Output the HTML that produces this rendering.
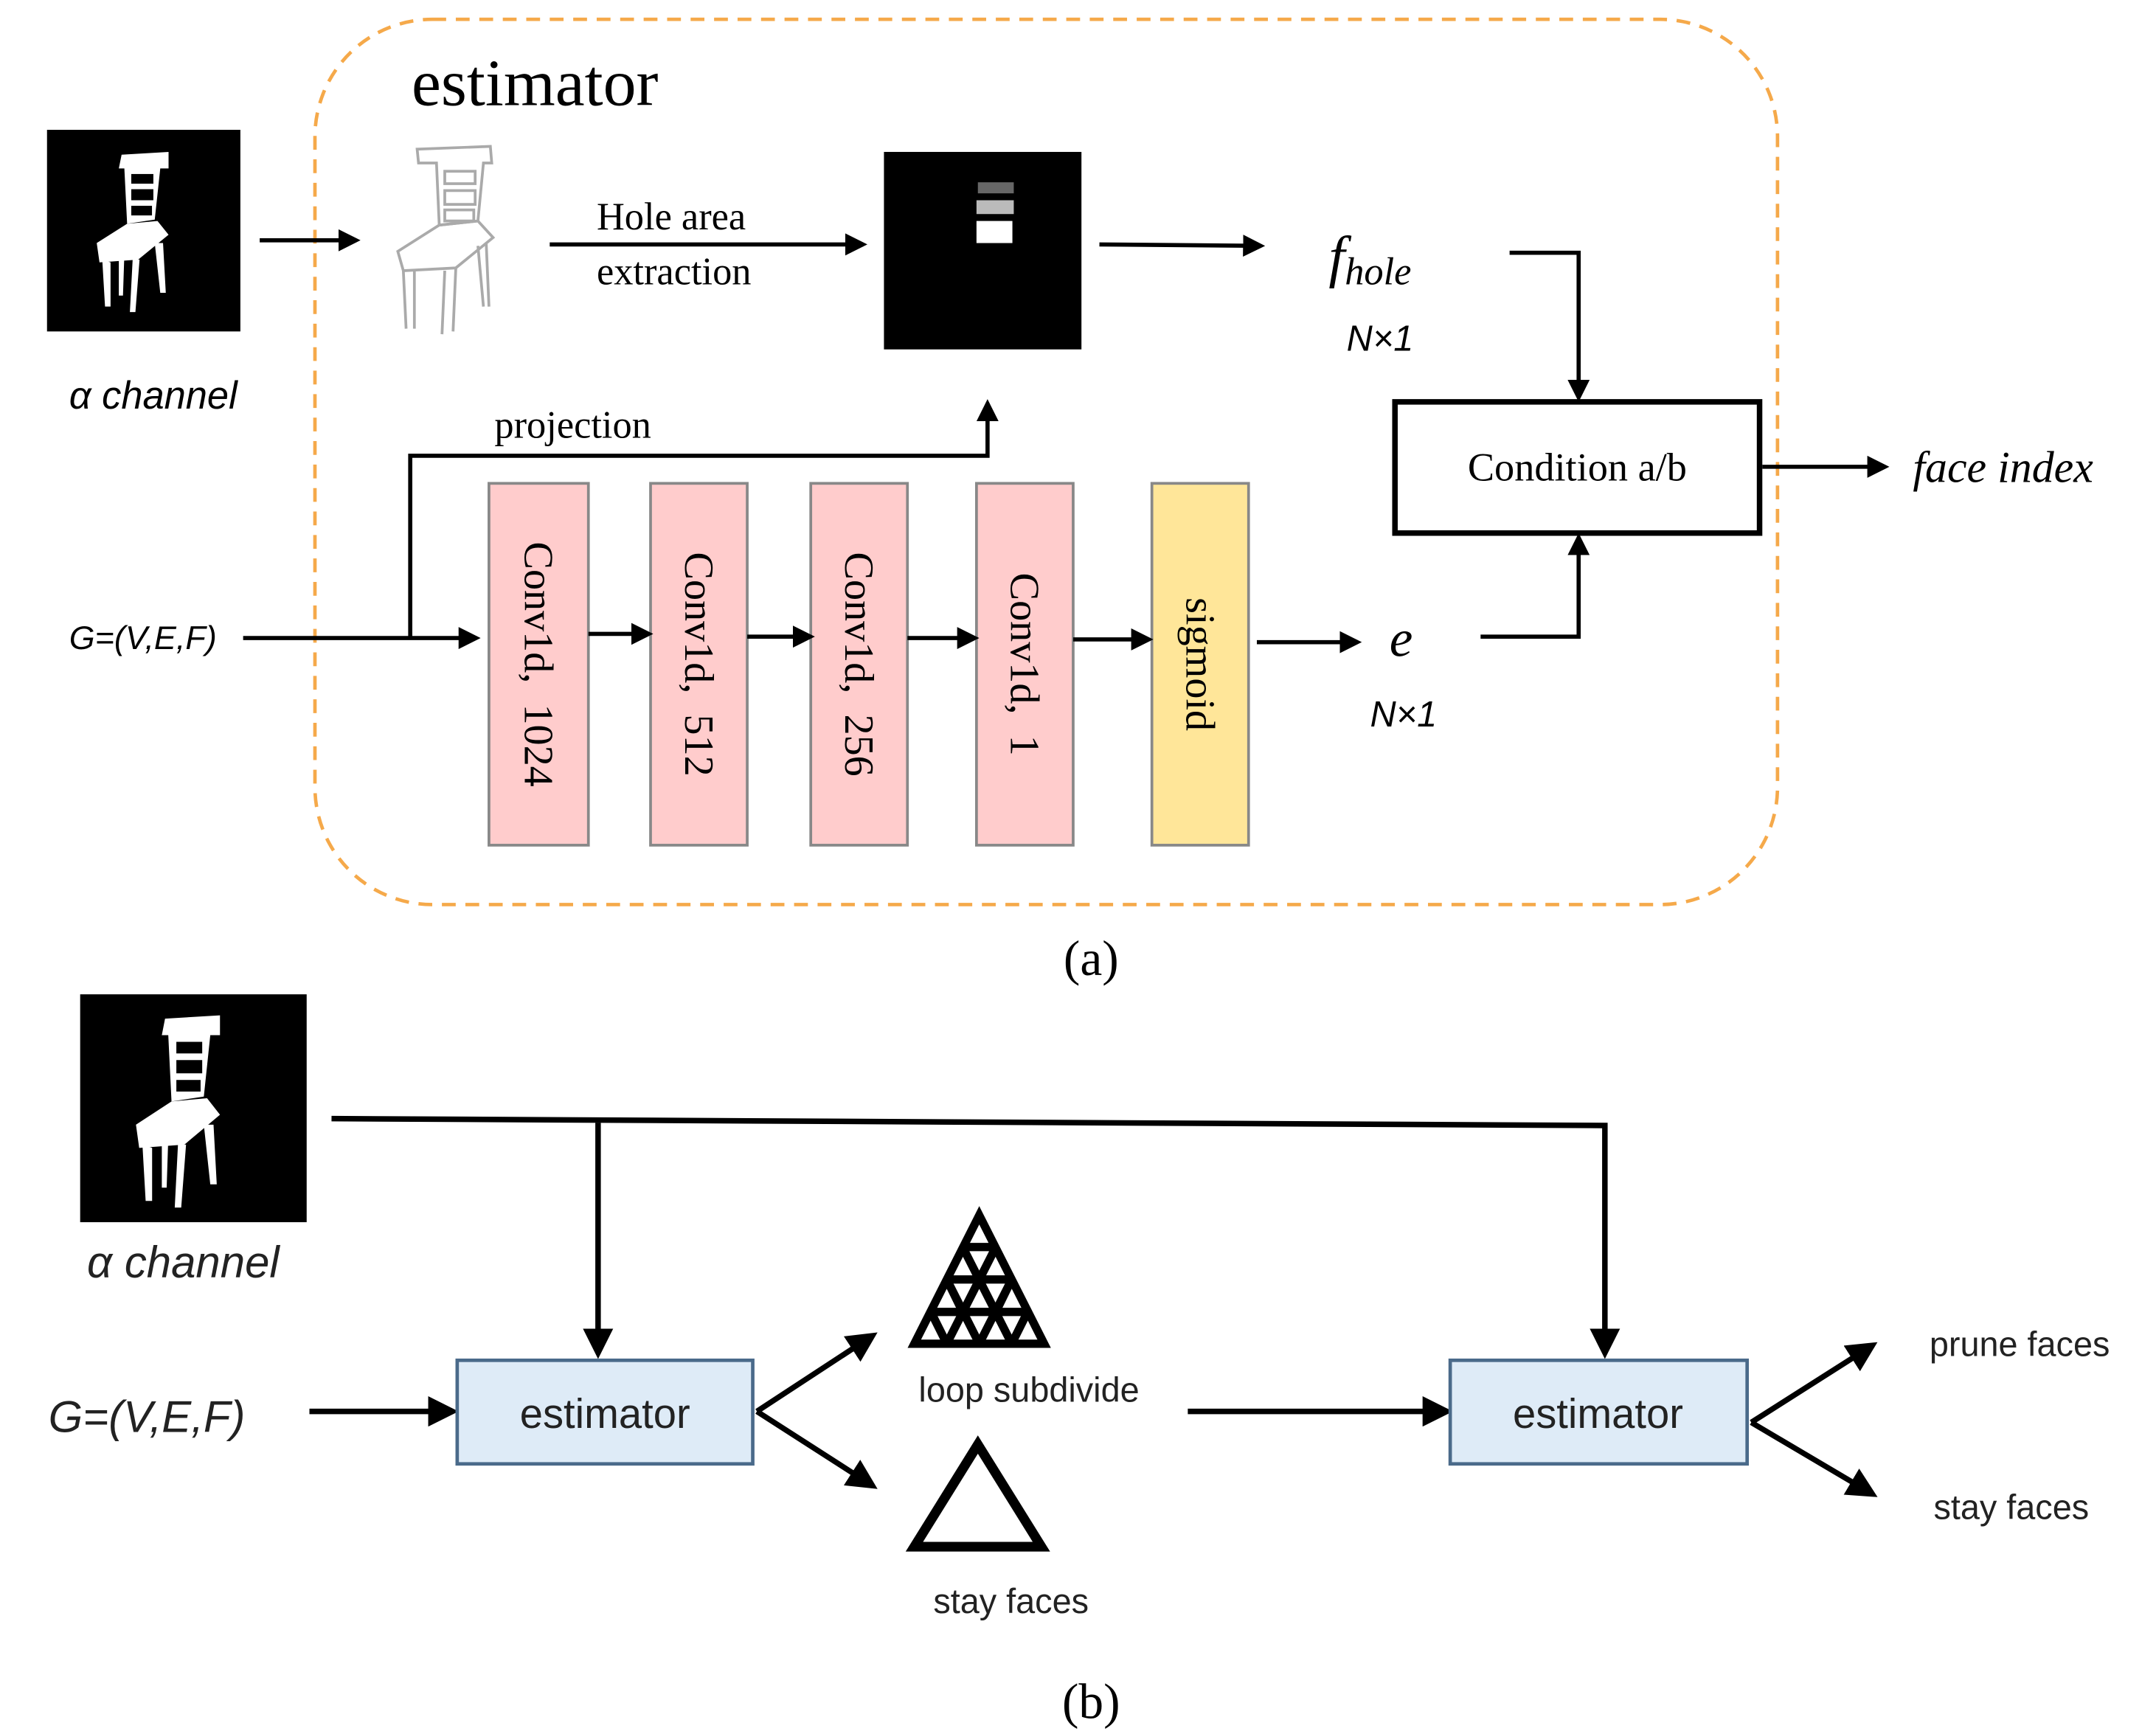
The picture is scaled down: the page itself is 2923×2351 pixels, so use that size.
<!DOCTYPE html>
<html><head><meta charset="utf-8"><style>
html,body{margin:0;padding:0;background:#fff;}
svg{display:block;}
.serif{font-family:"Liberation Serif",serif;}
.sans{font-family:"Liberation Sans","DejaVu Sans",sans-serif;}
</style></head><body>
<svg width="2923" height="2351" viewBox="0 0 1561 1255.6" xmlns="http://www.w3.org/2000/svg">
<defs>
<marker id="ah2" markerWidth="22" markerHeight="22" refX="18" refY="11" orient="auto" markerUnits="userSpaceOnUse" viewBox="0 0 22 22">
<path d="M0,0 L22,11 L0,22 z" fill="#000"/></marker>
<marker id="ah3" markerWidth="16" markerHeight="16" refX="13" refY="8" orient="auto" markerUnits="userSpaceOnUse" viewBox="0 0 16 16">
<path d="M0,0 L16,8 L0,16 z" fill="#000"/></marker>
<g id="chair">
<path d="M38,8 L72,6 L72,18 L66,18 L62,55 L42,58 L40,18 L36,18 Z" fill="#fff"/>
<rect x="45" y="22" width="16" height="7" fill="#000"/>
<rect x="45" y="33" width="16" height="8" fill="#000"/>
<rect x="45" y="45" width="15" height="7" fill="#000"/>
<path d="M20,72 L42,58 L64,56 L72,66 L50,84 L22,86 Z" fill="#fff"/>
<path d="M24,84 L26,118 L30,118 L30,86 Z M46,84 L44,122 L48,122 L51,84 Z M62,72 L66,108 L70,108 L68,72 Z M36,80 L36,110 L39,110 L40,80 Z" fill="#fff"/>
</g>
</defs>

<rect x="228" y="14" width="1059" height="641" rx="85" ry="85" fill="none" stroke="#f5a94a" stroke-width="2.5" stroke-dasharray="10,7"/>
<text x="298" y="76" class="serif" font-size="48">estimator</text>

<rect x="34" y="94" width="140" height="146" fill="#000"/>
<use href="#chair" transform="translate(50,104)"/>
<text x="50" y="296" class="sans" font-size="28" font-style="italic">α channel</text>
<line x1="188" y1="174" x2="258" y2="174" stroke="#000" stroke-width="3" marker-end="url(#ah3)"/>

<g fill="none" stroke="#aaa" stroke-width="2">
<path d="M302,108 L355,106 L356,118 L350,118 L346,160 L318,163 L316,118 L303,118 Z"/>
<rect x="322" y="124" width="22" height="9"/><rect x="322" y="138" width="22" height="10"/><rect x="322" y="152" width="21" height="8"/>
<path d="M288,182 L318,163 L346,160 L357,172 L330,194 L292,196 Z"/>
<path d="M292,196 L294,238 M300,196 L300,238 M322,196 L320,242 M330,194 L328,240 M346,178 L350,222 M352,176 L354,222"/>
</g>

<line x1="398" y1="177" x2="625" y2="177" stroke="#000" stroke-width="3" marker-end="url(#ah3)"/>
<text x="432" y="166" class="serif" font-size="28">Hole area</text>
<text x="432" y="206" class="serif" font-size="28">extraction</text>

<rect x="640" y="110" width="143" height="143" fill="#000"/>
<rect x="708" y="132" width="26" height="8" fill="#666"/>
<rect x="707" y="145" width="27" height="10" fill="#bbb"/>
<rect x="707" y="160" width="26" height="16" fill="#fff"/>

<line x1="796" y1="177" x2="913" y2="178" stroke="#000" stroke-width="3" marker-end="url(#ah3)"/>
<text x="962" y="200" class="serif" font-size="42" font-style="italic">f<tspan font-size="28" dy="6">hole</tspan></text>
<text x="975" y="254" class="sans" font-size="26" font-style="italic">N×1</text>
<polyline points="1093,183 1143,183 1143,288" fill="none" stroke="#000" stroke-width="3" marker-end="url(#ah3)"/>

<rect x="1010" y="291" width="264" height="95" fill="#fff" stroke="#000" stroke-width="4"/>
<text x="1142" y="348" class="serif" font-size="29" text-anchor="middle">Condition a/b</text>
<line x1="1276" y1="338" x2="1365" y2="338" stroke="#000" stroke-width="3" marker-end="url(#ah3)"/>
<text x="1385" y="349" class="serif" font-size="32" font-style="italic">face index</text>

<text x="50" y="470" class="sans" font-size="24" font-style="italic">G=(V,E,F)</text>
<line x1="176" y1="462" x2="345" y2="462" stroke="#000" stroke-width="3" marker-end="url(#ah3)"/>
<polyline points="297,462 297,330 715,330 715,292" fill="none" stroke="#000" stroke-width="3" marker-end="url(#ah3)"/>
<text x="358" y="317" class="serif" font-size="28">projection</text>

<g stroke="#888" stroke-width="2">
<rect x="354" y="350" width="72" height="262" fill="#ffcccc"/>
<rect x="471" y="350" width="70" height="262" fill="#ffcccc"/>
<rect x="587" y="350" width="70" height="262" fill="#ffcccc"/>
<rect x="707" y="350" width="70" height="262" fill="#ffcccc"/>
<rect x="834" y="350" width="70" height="262" fill="#ffe699"/>
</g>
<g class="serif" font-size="30">
<text transform="translate(380,481) rotate(90)" text-anchor="middle">Conv1d,&#160;&#160;1024</text>
<text transform="translate(496,481) rotate(90)" text-anchor="middle">Conv1d,&#160;&#160;512</text>
<text transform="translate(612,481) rotate(90)" text-anchor="middle">Conv1d,&#160;&#160;256</text>
<text transform="translate(732,481) rotate(90)" text-anchor="middle">Conv1d,&#160;&#160;1</text>
<text transform="translate(859,481) rotate(90)" text-anchor="middle">sigmoid</text>
</g>
<g stroke="#000" stroke-width="3">
<line x1="426" y1="459" x2="470" y2="459" marker-end="url(#ah3)"/>
<line x1="541" y1="461" x2="587" y2="461" marker-end="url(#ah3)"/>
<line x1="657" y1="462" x2="706" y2="462" marker-end="url(#ah3)"/>
<line x1="777" y1="463" x2="832" y2="463" marker-end="url(#ah3)"/>
<line x1="910" y1="465" x2="983" y2="465" marker-end="url(#ah3)"/>
</g>
<text x="1006" y="475" class="serif" font-size="38" font-style="italic">e</text>
<text x="992" y="526" class="sans" font-size="26" font-style="italic">N×1</text>
<polyline points="1072,461 1143,461 1143,389" fill="none" stroke="#000" stroke-width="3" marker-end="url(#ah3)"/>

<text x="790" y="706" class="serif" font-size="36" text-anchor="middle">(a)</text>

<rect x="58" y="720" width="164" height="165" fill="#000"/>
<use href="#chair" transform="translate(75,728) scale(1.17,1.2)"/>
<text x="63" y="925" class="sans" font-size="32" font-style="italic" fill="#222">α channel</text>

<polyline points="240,810 1162,815 1162,980" fill="none" stroke="#000" stroke-width="4" marker-end="url(#ah2)"/>
<line x1="433" y1="813" x2="433" y2="980" stroke="#000" stroke-width="4" marker-end="url(#ah2)"/>

<text x="35" y="1037" class="sans" font-size="32" font-style="italic" fill="#222">G=(V,E,F)</text>
<line x1="224" y1="1022" x2="328" y2="1022" stroke="#000" stroke-width="4" marker-end="url(#ah2)"/>

<rect x="331" y="985" width="214" height="75" fill="#deebf7" stroke="#4a6a8a" stroke-width="2.5"/>
<text x="438" y="1034" class="sans" font-size="30" text-anchor="middle" fill="#222">estimator</text>
<line x1="548" y1="1022" x2="632" y2="967" stroke="#000" stroke-width="4" marker-end="url(#ah2)"/>
<line x1="548" y1="1022" x2="632" y2="1076" stroke="#000" stroke-width="4" marker-end="url(#ah2)"/>

<g fill="none" stroke="#000" stroke-width="6">
<path d="M709,880 L756,973 L662,973 Z"/>
<path d="M685.5,926.5 L732.5,926.5 M697,903 L721,903 M674,950 L744,950"/>
<path d="M697,903 L732.5,973 M721,903 L685.5,973 M685.5,926.5 L709,973 M732.5,926.5 L709,973 M674,950 L685.5,973 M744,950 L732.5,973 M685.5,926.5 L697,950 M732.5,926.5 L721,950"/>
</g>
<text x="745" y="1015" class="sans" font-size="25" text-anchor="middle" fill="#222">loop subdivide</text>
<path d="M708,1046 L754,1120 L662,1120 Z" fill="none" stroke="#000" stroke-width="7"/>
<text x="732" y="1168" class="sans" font-size="25" text-anchor="middle" fill="#222">stay faces</text>

<line x1="860" y1="1022" x2="1048" y2="1022" stroke="#000" stroke-width="4" marker-end="url(#ah2)"/>
<rect x="1050" y="985" width="215" height="75" fill="#deebf7" stroke="#4a6a8a" stroke-width="2.5"/>
<text x="1157" y="1034" class="sans" font-size="30" text-anchor="middle" fill="#222">estimator</text>
<line x1="1268" y1="1030" x2="1356" y2="974" stroke="#000" stroke-width="4" marker-end="url(#ah2)"/>
<line x1="1268" y1="1030" x2="1356" y2="1082" stroke="#000" stroke-width="4" marker-end="url(#ah2)"/>
<text x="1397" y="982" class="sans" font-size="25" fill="#222">prune faces</text>
<text x="1400" y="1100" class="sans" font-size="25" fill="#222">stay faces</text>

<text x="790" y="1244" class="serif" font-size="36" text-anchor="middle">(b)</text>
</svg>
</body></html>
